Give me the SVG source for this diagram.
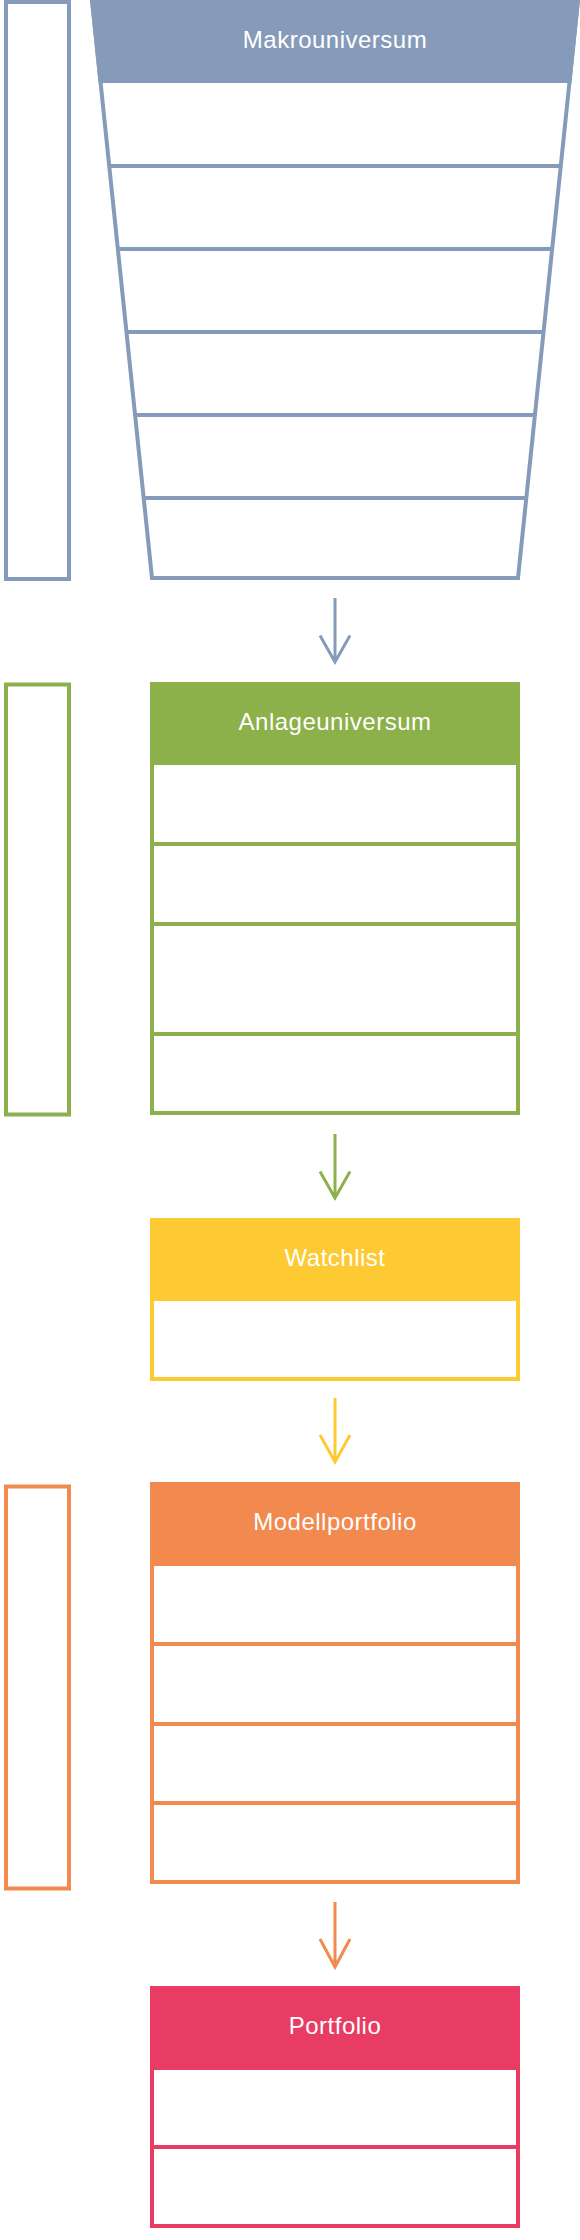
<svg xmlns="http://www.w3.org/2000/svg" width="580" height="2240" viewBox="0 0 580 2240">
<style>
.lbl{font-family:"Liberation Sans",Arial,sans-serif;font-size:24px;fill:#ffffff;text-anchor:middle;letter-spacing:0.5px}
.ol{fill:none;stroke-width:4}
.arr{fill:none;stroke-width:3;stroke-linejoin:miter}
.blue{stroke:#869BBA}.green{stroke:#8CB04A}.yellow{stroke:#FECA33}.orange{stroke:#F2894F}.pink{stroke:#E83C64}
</style>
<rect width="580" height="2240" fill="#ffffff"/>

<g id="makrouniversum">
<rect class="ol blue" x="6" y="2" width="63" height="577"/>
<polygon points="90,0 580,0 571.4,83 98.6,83" fill="#869BBA"/>
<polygon class="ol blue" points="92,0 578,0 518,578 152,578"/>
<g class="blue" stroke-width="4">
<line x1="109.2" y1="166" x2="560.8" y2="166"/>
<line x1="117.8" y1="249" x2="552.2" y2="249"/>
<line x1="126.5" y1="332" x2="543.5" y2="332"/>
<line x1="135.1" y1="415" x2="534.9" y2="415"/>
<line x1="143.7" y1="498" x2="526.3" y2="498"/>
</g>
<text class="lbl" x="335" y="48">Makrouniversum</text>
</g>

<g id="anlageuniversum">
<rect class="ol green" x="6" y="684.5" width="63" height="430"/>
<rect x="150" y="682" width="370" height="83" fill="#8CB04A"/>
<rect class="ol green" x="152" y="684" width="366" height="429"/>
<g class="green" stroke-width="4">
<line x1="152" y1="844" x2="518" y2="844"/>
<line x1="152" y1="924" x2="518" y2="924"/>
<line x1="152" y1="1034" x2="518" y2="1034"/>
</g>
<text class="lbl" x="335" y="730">Anlageuniversum</text>
</g>

<g id="watchlist">
<rect x="150" y="1218" width="370" height="83" fill="#FECA33"/>
<rect class="ol yellow" x="152" y="1220" width="366" height="159"/>
<text class="lbl" x="335" y="1266">Watchlist</text>
</g>

<g id="modellportfolio">
<rect class="ol orange" x="6" y="1486.5" width="63" height="402"/>
<rect x="150" y="1482" width="370" height="84" fill="#F2894F"/>
<rect class="ol orange" x="152" y="1484" width="366" height="398"/>
<g class="orange" stroke-width="4">
<line x1="152" y1="1644" x2="518" y2="1644"/>
<line x1="152" y1="1724" x2="518" y2="1724"/>
<line x1="152" y1="1803" x2="518" y2="1803"/>
</g>
<text class="lbl" x="335" y="1530">Modellportfolio</text>
</g>

<g id="portfolio">
<rect x="150" y="1986" width="370" height="84" fill="#E83C64"/>
<rect class="ol pink" x="152" y="1988" width="366" height="238"/>
<line class="pink" stroke-width="4" x1="152" y1="2147" x2="518" y2="2147"/>
<text class="lbl" x="335" y="2034">Portfolio</text>
</g>

<g id="connectors">
<path class="arr blue" d="M335 598V661M320 635.5L335 662L350 635.5"/>
<path class="arr green" d="M335 1134V1197M320 1171.5L335 1198L350 1171.5"/>
<path class="arr yellow" d="M335 1398V1461M320 1435L335 1462L350 1435"/>
<path class="arr orange" d="M335 1902V1966M320 1939L335 1967L350 1939"/>
</g>
</svg>
